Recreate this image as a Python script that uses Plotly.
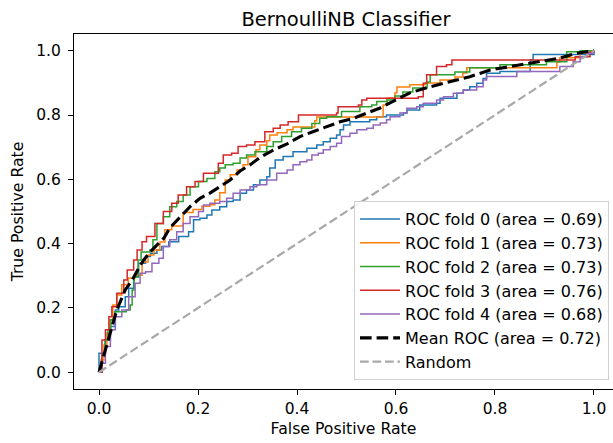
import plotly.graph_objects as go

# ---- data ----
fold0_fpr = [0, 0, 0.013, 0.023, 0.033, 0.040, 0.053, 0.060, 0.070, 0.080, 0.094, 0.104, 0.117, 0.127, 0.141, 0.161, 0.181,
             0.191, 0.204, 0.218, 0.228, 0.244, 0.258, 0.271, 0.285, 0.298, 0.312, 0.325, 0.339, 0.345, 0.356, 0.372,
             0.392, 0.420, 0.440, 0.453, 0.467, 0.480, 0.487, 0.494, 0.507, 0.547, 0.561, 0.581, 0.615, 0.622, 0.642,
             0.648, 0.682, 0.689, 0.709, 0.723, 0.736, 0.749, 0.763, 0.776, 0.783, 0.810, 0.871, 0.871, 0.877, 0.962, 1.0]
fold0_tpr = [0, 0.059, 0.100, 0.142, 0.194, 0.204, 0.235, 0.261, 0.297, 0.339, 0.360, 0.370, 0.380, 0.391, 0.406, 0.422, 0.437,
             0.474, 0.479, 0.489, 0.505, 0.515, 0.531, 0.536, 0.557, 0.567, 0.583, 0.598, 0.608, 0.635, 0.660, 0.671,
             0.686, 0.697, 0.707, 0.717, 0.728, 0.738, 0.754, 0.769, 0.779, 0.785, 0.795, 0.800, 0.806, 0.816, 0.816,
             0.831, 0.837, 0.852, 0.852, 0.868, 0.878, 0.888, 0.899, 0.914, 0.930, 0.935, 0.935, 0.971, 0.988, 0.988, 1.0]

fold1_fpr = [0, 0.004, 0.010, 0.016, 0.022, 0.028, 0.036, 0.046, 0.059, 0.073, 0.087, 0.099, 0.111, 0.123, 0.133, 0.147,
             0.170, 0.190, 0.208, 0.224, 0.234, 0.244, 0.255, 0.265, 0.279, 0.291, 0.301, 0.317, 0.325, 0.339, 0.345,
             0.360, 0.380, 0.392, 0.426, 0.436, 0.440, 0.481, 0.574, 0.574, 0.582, 0.598, 0.602, 0.628, 0.659, 0.689,
             0.719, 0.735, 0.743, 0.917, 0.925, 0.931, 0.972, 1.0]
fold1_tpr = [0, 0.038, 0.085, 0.122, 0.163, 0.209, 0.240, 0.272, 0.293, 0.302, 0.343, 0.365, 0.380, 0.405, 0.443, 0.455,
             0.497, 0.506, 0.516, 0.521, 0.536, 0.558, 0.598, 0.614, 0.629, 0.645, 0.670, 0.692, 0.707, 0.720, 0.738,
             0.745, 0.754, 0.763, 0.763, 0.782, 0.794, 0.794, 0.794, 0.831, 0.853, 0.869, 0.887, 0.894, 0.900, 0.909,
             0.918, 0.931, 0.947, 0.947, 0.965, 0.978, 0.993, 1.0]

fold2_fpr = [0, 0.006, 0.012, 0.018, 0.024, 0.032, 0.042, 0.055, 0.063, 0.067, 0.071, 0.079, 0.085, 0.103, 0.109, 0.117,
             0.130, 0.143, 0.157, 0.170, 0.184, 0.201, 0.218, 0.234, 0.244, 0.255, 0.271, 0.285, 0.298, 0.315, 0.339,
             0.352, 0.369, 0.389, 0.409, 0.430, 0.446, 0.460, 0.487, 0.490, 0.521, 0.527, 0.551, 0.561, 0.582, 0.598,
             0.614, 0.634, 0.663, 0.669, 0.715, 0.719, 0.743, 0.749, 0.810, 0.904, 0.945, 0.972, 1.0]
fold2_tpr = [0, 0.054, 0.100, 0.132, 0.163, 0.188, 0.188, 0.194, 0.209, 0.256, 0.296, 0.349, 0.374, 0.380, 0.412, 0.463,
             0.484, 0.515, 0.531, 0.551, 0.577, 0.593, 0.603, 0.624, 0.635, 0.645, 0.650, 0.666, 0.676, 0.686, 0.702,
             0.717, 0.733, 0.748, 0.759, 0.774, 0.790, 0.795, 0.795, 0.811, 0.811, 0.826, 0.831, 0.842, 0.847, 0.859,
             0.872, 0.884, 0.903, 0.925, 0.925, 0.934, 0.934, 0.947, 0.956, 0.966, 0.997, 1.0, 1.0]

fold3_fpr = [0, 0.006, 0.013, 0.020, 0.026, 0.036, 0.050, 0.057, 0.070, 0.077, 0.087, 0.096, 0.113, 0.130, 0.147, 0.160,
             0.177, 0.194, 0.211, 0.231, 0.241, 0.251, 0.268, 0.281, 0.298, 0.315, 0.335, 0.352, 0.366, 0.382, 0.403,
             0.446, 0.480, 0.483, 0.524, 0.531, 0.541, 0.645, 0.655, 0.662, 0.682, 0.702, 0.713, 0.935, 0.962, 0.992, 1.0]
fold3_tpr = [0, 0.100, 0.132, 0.173, 0.204, 0.246, 0.287, 0.318, 0.349, 0.380, 0.406, 0.422, 0.463, 0.500, 0.526, 0.551,
             0.577, 0.593, 0.619, 0.619, 0.650, 0.676, 0.681, 0.702, 0.707, 0.717, 0.748, 0.759, 0.769, 0.779, 0.800,
             0.800, 0.806, 0.826, 0.831, 0.847, 0.852, 0.857, 0.899, 0.925, 0.951, 0.956, 0.971, 0.971, 0.981, 0.996, 1.0]

fold4_fpr = [0, 0.003, 0.013, 0.023, 0.033, 0.046, 0.060, 0.073, 0.083, 0.094, 0.107, 0.121, 0.130, 0.143, 0.157, 0.170,
             0.184, 0.201, 0.211, 0.224, 0.244, 0.258, 0.271, 0.285, 0.305, 0.319, 0.339, 0.359, 0.380, 0.392, 0.406,
             0.420, 0.430, 0.443, 0.453, 0.467, 0.480, 0.490, 0.507, 0.521, 0.541, 0.554, 0.568, 0.581, 0.588, 0.608,
             0.622, 0.642, 0.655, 0.682, 0.696, 0.716, 0.736, 0.763, 0.776, 0.783, 0.837, 0.844, 0.925, 0.931, 0.958,
             0.972, 0.985, 1.0]
fold4_tpr = [0, 0.028, 0.080, 0.132, 0.173, 0.194, 0.235, 0.277, 0.308, 0.313, 0.339, 0.355, 0.391, 0.412, 0.437, 0.463,
             0.484, 0.500, 0.520, 0.526, 0.531, 0.541, 0.557, 0.567, 0.577, 0.583, 0.598, 0.619, 0.629, 0.645, 0.655,
             0.660, 0.676, 0.681, 0.692, 0.702, 0.712, 0.733, 0.743, 0.754, 0.759, 0.769, 0.775, 0.785, 0.795, 0.806,
             0.821, 0.826, 0.837, 0.847, 0.857, 0.868, 0.878, 0.888, 0.909, 0.920, 0.920, 0.935, 0.935, 0.951, 0.966,
             0.981, 0.992, 1.0]

mean_fpr = [0, 0.013, 0.026, 0.036, 0.053, 0.067, 0.080, 0.090, 0.107, 0.131, 0.143, 0.164, 0.184, 0.204, 0.224, 0.244,
            0.265, 0.285, 0.305, 0.325, 0.352, 0.380, 0.406, 0.432, 0.460, 0.487, 0.514, 0.541, 0.568, 0.588, 0.628,
            0.669, 0.709, 0.749, 0.790, 0.851, 0.891, 0.931, 0.964, 1.0]
mean_tpr = [0, 0.069, 0.142, 0.194, 0.256, 0.287, 0.323, 0.349, 0.380, 0.417, 0.449, 0.484, 0.515, 0.541, 0.557, 0.577,
            0.598, 0.626, 0.645, 0.668, 0.691, 0.710, 0.733, 0.748, 0.764, 0.779, 0.790, 0.807, 0.822, 0.838, 0.869,
            0.888, 0.904, 0.919, 0.940, 0.956, 0.966, 0.977, 0.992, 1.0]

random_x = [0, 1]
random_y = [0, 1]

fold_aucs = [0.69, 0.73, 0.73, 0.76, 0.68]
mean_auc = 0.72
fold_colors = ["#1f77b4", "#ff7f0e", "#2ca02c", "#d62728", "#9467bd"]

folds = [(fold0_fpr, fold0_tpr), (fold1_fpr, fold1_tpr), (fold2_fpr, fold2_tpr),
         (fold3_fpr, fold3_tpr), (fold4_fpr, fold4_tpr)]

tick_vals = [0.0, 0.2, 0.4, 0.6, 0.8, 1.0]
tick_text = ["0.0", "0.2", "0.4", "0.6", "0.8", "1.0"]

FONT = "DejaVu Sans"

fig = go.Figure()
for i, ((fx, fy), auc, col) in enumerate(zip(folds, fold_aucs, fold_colors)):
    fig.add_trace(go.Scatter(x=fx, y=fy, mode="lines", line=dict(color=col, width=1.5, shape="hv"),
                             name=f"ROC fold {i} (area = {auc:.2f})"))
fig.add_trace(go.Scatter(x=mean_fpr, y=mean_tpr, mode="lines",
                         line=dict(color="black", width=3.1, dash="11.6px,5px"),
                         name=f"Mean ROC (area = {mean_auc:.2f})"))
fig.add_trace(go.Scatter(x=random_x, y=random_y, mode="lines",
                         line=dict(color="#a9a9a9", width=2.2, dash="8.7px,3.8px"),
                         name="Random"))

axis_common = dict(
    showgrid=False, zeroline=False, showline=True, linecolor="black", linewidth=1.2,
    ticks="outside", ticklen=5, tickwidth=1.2, tickcolor="black",
    tickvals=tick_vals, ticktext=tick_text,
    tickfont=dict(family=FONT, size=15.5, color="black"),
)

fig.update_layout(
    width=613, height=443,
    margin=dict(l=74, r=0, t=34, b=54),
    paper_bgcolor="white", plot_bgcolor="white",
    font=dict(family=FONT, color="black"),
    title=dict(text="BernoulliNB Classifier", x=0.5046, xref="paper", xanchor="center",
               y=1 - 19 / 443, yref="container", yanchor="middle",
               font=dict(family=FONT, size=19.5, color="black")),
    xaxis=dict(range=[-0.0505, 1.0384], mirror=True,
               title=dict(text="False Positive Rate", font=dict(family=FONT, size=15.7, color="black"), standoff=6),
               **axis_common),
    yaxis=dict(range=[-0.052, 1.052], mirror=False, ticklabelstandoff=4,
               title=dict(text="True Positive Rate", font=dict(family=FONT, size=15.7, color="black"), standoff=8),
               **axis_common),
    legend=dict(x=0.9926, xanchor="right", y=0.0254, yanchor="bottom",
                bgcolor="rgba(255,255,255,0.85)", bordercolor="#d0d0d0", borderwidth=1,
                font=dict(family=FONT, size=16, color="black"), itemwidth=40,
                tracegroupgap=0),
    showlegend=True,
)

fig.write_html("out.html")
